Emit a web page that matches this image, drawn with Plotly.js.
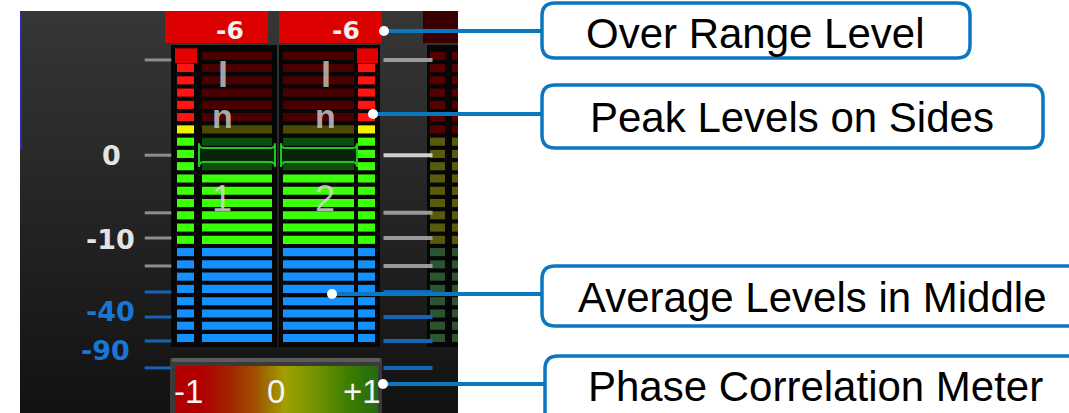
<!DOCTYPE html>
<html><head><meta charset="utf-8">
<script src="https://cdn.plot.ly/plotly-3.0.1.min.js"></script>
<style>html,body{margin:0;padding:0;background:#fff;overflow:hidden}#chart{width:1069px;height:413px}</style>
</head><body><div id="chart"></div>
<script>
// ---------------- data ----------------
const channels = ['1', '2'];
const overRange = ['-6', '-6'];
const zoneNames = ['blue', 'green', 'yellow', 'red', 'clip'];
const zoneSegments = [8, 9, 1, 5, 1];
const peakLit = [24, 24];          // lit segments (from bottom) on the side peak columns
const avgLit = [14, 14];           // lit segments in the middle average columns
const meter3Zones = ['green', 'yellow', 'red'];
const meter3Segments = [8, 9, 7];
const scaleTicks = [22.66, 14.9, 10.2, 8.15, 5.87, 3.75, 1.71, -0.24, -2.44];
const scaleTickZone = ['upper', 'upper', 'upper', 'upper', 'upper', 'lower', 'lower', 'lower', 'lower'];
const scaleLabels = ['0', '-10', '-40', '-90'];
const scaleLabelLevels = [14.85, 8.0, 2.2, -1.05];
const zeroMarkLevel = 14.91;
const phaseScale = [-1, 0, 1];
const phaseLabels = ['-1', '0', '+1'];
const phaseStops = [-1, -0.74, -0.46, -0.2, 0.08, 0.44, 0.72, 1];
const phaseColors = ['#b00000', '#b00000', '#a02400', '#a05200', '#a2a000', '#689000', '#3c7c00', '#226c10'];
const inputMark = ['I', 'n'];
const callouts = ['Over Range Level', 'Peak Levels on Sides', 'Average Levels in Middle', 'Phase Correlation Meter'];

// ---------------- styles / geometry ----------------
const litColor = {blue: '#1590ff', green: '#3cff0a', yellow: '#f2f200', red: '#ff1414', clip: '#e20000'};
const dimColor = {blue: '#06284a', green: '#0c4e0c', yellow: '#4c4a00', red: '#4a0000', clip: '#4a0000'};
const m3Color = {green: '#2c5430', yellow: '#5a5a0c', red: '#560000'};
const BLUE = '#0b77c1';
const chGeom = [
  {peakX: 185.5, peakW: 17, clipX: 186, clipW: 22, avgX: 237, avgW: 70, blk: [171, 277], box: [165, 268], txtX: 230, numX: 222, zero: [199, 275]},
  {peakX: 366.5, peakW: 17, clipX: 367.5, clipW: 21, avgX: 318.5, avgW: 71, blk: [279, 380], box: [279, 382], txtX: 346, numX: 325, zero: [281, 357]}
];
const SEG_H = 0.66, CLIP_H = 1.22;

function rect(x0, x1, y0, y1, color, extra) {
  return Object.assign({type: 'scatter', x: [x0, x1, x1, x0, x0], y: [y0, y0, y1, y1, y0], mode: 'none',
    fill: 'toself', fillcolor: color, hoverinfo: 'skip', showlegend: false, xaxis: 'x', yaxis: 'y'}, extra || {});
}
function zoneList(names, counts) {
  const out = [];
  names.forEach((z, k) => { for (let i = 0; i < counts[k]; i++) out.push(z); });
  return out;
}
const segZones = zoneList(zoneNames, zoneSegments);
const m3Zones = zoneList(meter3Zones, meter3Segments);

const traces = [];
// panel
traces.push(rect(20, 458, 11, 413, '#222', {fillgradient: {type: 'vertical', start: 11, stop: 413, colorscale: [[0, '#363636'], [1, '#121212']]}}));
// meter backgrounds and over-range boxes
chGeom.forEach((g, c) => {
  traces.push(rect(g.blk[0], g.blk[1], 45, 347, '#060606'));
  traces.push(rect(g.box[0], g.box[1], 11, 43, '#dc0000'));
});
traces.push(rect(427, 458, 45, 347, '#060606'));
traces.push(rect(423, 458, 11, 43, '#3a0000'));
// phase correlation meter
traces.push(rect(170, 382, 358, 413, '#3a3a3a'));
traces.push(rect(172, 380, 358, 362, '#5c5c5c'));
const pMin = phaseScale[0], pMax = phaseScale[phaseScale.length - 1];
traces.push(rect(175, 378, 366, 413, '#888', {fillgradient: {type: 'horizontal', start: 175, stop: 378,
  colorscale: phaseStops.map((s, i) => [(s - pMin) / (pMax - pMin), phaseColors[i]])}}));

// meter segments (level axis y2)
function segTrace(xs, ws, bases, hs, cols) {
  return {type: 'bar', x: xs, y: hs, base: bases, width: ws, xaxis: 'x', yaxis: 'y2',
    marker: {color: cols, line: {width: 0}}, hoverinfo: 'skip', showlegend: false};
}
chGeom.forEach((g, c) => {
  const px = [], pw = [], pb = [], ph = [], pc = [];
  segZones.forEach((z, i) => {
    const h = z === 'clip' ? CLIP_H : SEG_H;
    px.push(z === 'clip' ? g.clipX : g.peakX);
    pw.push(z === 'clip' ? g.clipW : g.peakW);
    pb.push(i - h / 2); ph.push(h);
    pc.push(i < peakLit[c] ? litColor[z] : dimColor[z]);
  });
  traces.push(segTrace(px, pw, pb, ph, pc));
  const ax = [], ab = [], ah = [], ac = [];
  segZones.forEach((z, i) => {
    ax.push(g.avgX); ab.push(i - SEG_H / 2); ah.push(SEG_H);
    ac.push(i < avgLit[c] ? litColor[z] : dimColor[z]);
  });
  traces.push(segTrace(ax, g.avgW, ab, ah, ac));
});
// third (partly visible) meter
[[437.5, 15], [455, 6]].forEach(col => {
  const x = [], b = [], h = [], cl = [];
  m3Zones.forEach((z, i) => { x.push(col[0]); b.push(i - SEG_H / 2); h.push(SEG_H); cl.push(m3Color[z]); });
  traces.push(segTrace(x, col[1], b, h, cl));
});
// scale ticks
const leftTickCol = scaleTickZone.map(z => z === 'upper' ? '#8e8e8e' : '#1664b8');
const rightTickCol = scaleTickZone.map((z, i) => z === 'upper' ? (i === 1 ? '#cfcfcf' : '#9a9a9a') : '#1664b8');
traces.push({type: 'scatter', mode: 'markers', x: scaleTicks.map(() => 158), y: scaleTicks, xaxis: 'x', yaxis: 'y2',
  marker: {symbol: 'line-ew-open', size: 19, color: leftTickCol, line: {width: 3, color: leftTickCol}}, hoverinfo: 'skip', showlegend: false});
traces.push({type: 'scatter', mode: 'markers', x: scaleTicks.map(() => 408), y: scaleTicks, xaxis: 'x', yaxis: 'y2',
  marker: {symbol: 'line-ew-open', size: 35, color: rightTickCol, line: {width: 4, color: rightTickCol}}, hoverinfo: 'skip', showlegend: false});

// ---------------- shapes ----------------
function rr(x0, y0, x1, y1, rx, ry) {
  return `M${x0 + rx},${y0} L${x1 - rx},${y0} Q${x1},${y0} ${x1},${y0 + ry} L${x1},${y1 - ry} Q${x1},${y1} ${x1 - rx},${y1} ` +
    `L${x0 + rx},${y1} Q${x0},${y1} ${x0},${y1 - ry} L${x0},${y0 + ry} Q${x0},${y0} ${x0 + rx},${y0} Z`;
}
const shapes = [];
shapes.push({type: 'line', xref: 'x', yref: 'y', x0: 21, x1: 21, y0: 11, y1: 150, line: {color: '#2b2bb0', width: 2}, layer: 'above'});
chGeom.forEach(g => {
  shapes.push({type: 'path', xref: 'x', yref: 'y2', layer: 'above',
    path: rr(g.zero[0], zeroMarkLevel + 0.57, g.zero[1], zeroMarkLevel - 0.57, 5, 0.4),
    fillcolor: '#072607', line: {color: '#22c322', width: 2}});
});
const boxes = [
  {x0: 542, y0: 3, x1: 970, y1: 58, dot: [384, 31]},
  {x0: 542, y0: 85, x1: 1043, y1: 148, dot: [373, 114]},
  {x0: 542, y0: 266, x1: 1090, y1: 326, dot: [332, 294]},
  {x0: 545, y0: 356, x1: 1090, y1: 430, dot: [383, 384]}
];
boxes.forEach(b => {
  shapes.push({type: 'line', xref: 'x', yref: 'y', x0: b.dot[0], x1: b.x0, y0: b.dot[1], y1: b.dot[1], line: {color: BLUE, width: 4}, layer: 'above'});
  shapes.push({type: 'path', xref: 'x', yref: 'y', path: rr(b.x0, b.y0, b.x1, b.y1, 13, 13), fillcolor: '#ffffff', line: {color: BLUE, width: 3.5}, layer: 'above'});
  shapes.push({type: 'circle', xref: 'x', yref: 'y', x0: b.dot[0] - 5, x1: b.dot[0] + 5, y0: b.dot[1] - 5, y1: b.dot[1] + 5, fillcolor: '#ffffff', line: {width: 0}, layer: 'above'});
});

// ---------------- annotations ----------------
const ann = [];
const callFont = {family: 'Liberation Sans, Arial, sans-serif', size: 42, color: '#000'};
const textCenters = [[755, 33], [792, 117], [812, 297], [815, 386]];
callouts.forEach((t, i) => ann.push({text: t, x: textCenters[i][0], y: textCenters[i][1], xref: 'x', yref: 'y', showarrow: false, font: callFont}));
const meterFont = 'Liberation Sans, Arial, sans-serif';
chGeom.forEach((g, c) => {
  ann.push({text: overRange[c], x: g.txtX, y: 30, xref: 'x', yref: 'y', showarrow: false,
    font: {family: 'DejaVu Sans, sans-serif', size: 25, color: '#f6eeee', weight: 'bold'}});
  ann.push({text: channels[c], x: g.numX, y: 11.4, xref: 'x', yref: 'y2', showarrow: false,
    font: {family: meterFont, size: 36, color: 'rgba(215,215,215,0.85)'}});
  ann.push({text: inputMark[0], x: g.numX + 1, y: 21.5, xref: 'x', yref: 'y2', showarrow: false,
    font: {family: meterFont, size: 36, color: 'rgba(190,190,190,0.85)', weight: 'bold'}});
  ann.push({text: inputMark[1], x: g.numX, y: 18.1, xref: 'x', yref: 'y2', showarrow: false,
    font: {family: meterFont, size: 34, color: 'rgba(190,190,190,0.9)', weight: 'bold'}});
});
const labelX = [111, 110, 110, 105];
scaleLabels.forEach((t, i) => ann.push({text: t, x: labelX[i], y: scaleLabelLevels[i], xref: 'x', yref: 'y2', showarrow: false,
  font: {family: 'DejaVu Sans, sans-serif', size: 27, weight: 'bold', color: scaleLabelLevels[i] > 5 ? '#e4e4e4' : '#1876d4'}}));
const phaseX = [188, 276, 362];
phaseLabels.forEach((t, i) => ann.push({text: t, x: phaseX[i], y: 391, xref: 'x', yref: 'y', showarrow: false,
  font: {family: meterFont, size: 33, color: '#f4f4f4'}}));

const layout = {
  width: 1069, height: 413, margin: {l: 0, r: 0, t: 0, b: 0, pad: 0},
  paper_bgcolor: '#ffffff', plot_bgcolor: 'rgba(0,0,0,0)',
  showlegend: false, hovermode: false, barmode: 'overlay',
  xaxis: {range: [0, 1069], visible: false, fixedrange: true},
  yaxis: {range: [413, 0], visible: false, fixedrange: true},
  yaxis2: {range: [-6.113, 27.547], overlaying: 'y', visible: false, fixedrange: true},
  shapes: shapes, annotations: ann
};
Plotly.newPlot('chart', traces, layout, {staticPlot: true, displayModeBar: false});
</script></body></html>
